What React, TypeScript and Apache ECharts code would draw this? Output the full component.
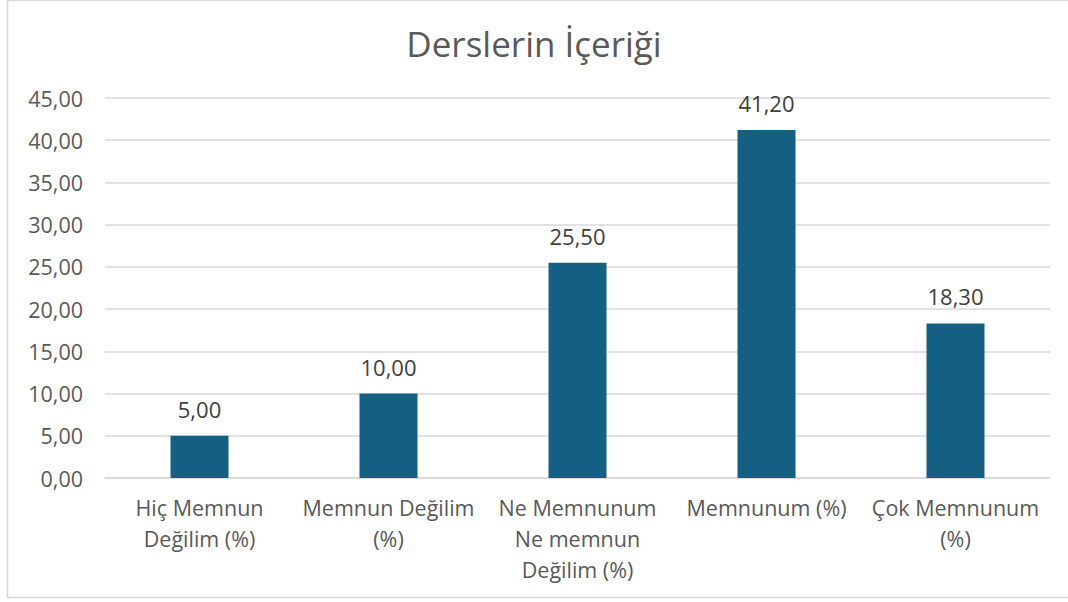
import React, { useEffect, useRef } from "react";
import * as echarts from "echarts";

const title = "Derslerin İçeriği";
const categories = [
  "Hiç Memnun\nDeğilim (%)",
  "Memnun Değilim\n(%)",
  "Ne Memnunum\nNe memnun\nDeğilim (%)",
  "Memnunum (%)",
  "Çok Memnunum\n(%)",
];
const values = [5.0, 10.0, 25.5, 41.2, 18.3];
const yMin = 0;
const yMax = 45;
const yInterval = 5;

const FONT = "'Open Sans', 'Noto Sans', sans-serif";
const fmt = (v: number) => v.toFixed(2).replace(".", ",");

export default function App() {
  const ref = useRef<HTMLDivElement>(null);
  useEffect(() => {
    if (!ref.current) return;
    const chart = echarts.init(ref.current, undefined, { renderer: "svg" });
    chart.setOption({
      animation: false,
      backgroundColor: "#ffffff",
      title: {
        text: title,
        left: "center",
        top: 21,
        textStyle: { fontFamily: FONT, fontSize: 35, fontWeight: "normal", color: "#595959" },
      },
      graphic: [
        {
          type: "rect",
          shape: { x: 7.5, y: 0.5, width: 1070, height: 597 },
          style: { fill: "none", stroke: "#d9d9d9", lineWidth: 1.5 },
          silent: true,
        },
      ],
      grid: { left: 105, right: 18, top: 98, bottom: 124 },
      xAxis: {
        type: "category",
        data: categories,
        axisLine: { show: true, lineStyle: { color: "#d9d9d9", width: 1.5 } },
        axisTick: { show: false },
        axisLabel: {
          interval: 0,
          margin: 14,
          fontFamily: FONT,
          fontSize: 21.5,
          lineHeight: 31,
          color: "#595959",
        },
      },
      yAxis: {
        type: "value",
        min: yMin,
        max: yMax,
        interval: yInterval,
        axisLine: { show: false },
        axisTick: { show: false },
        splitLine: { lineStyle: { color: "#d9d9d9", width: 1.5 } },
        axisLabel: {
          margin: 22,
          fontFamily: FONT,
          fontSize: 21.5,
          color: "#595959",
          formatter: (v: number) => fmt(v),
        },
      },
      series: [
        {
          type: "bar",
          data: values,
          barWidth: 58,
          itemStyle: { color: "#156082" },
          label: {
            show: true,
            position: "top",
            distance: 16,
            fontFamily: FONT,
            fontSize: 22,
            color: "#404040",
            formatter: (p: any) => fmt(p.value),
          },
        },
      ],
    });
    return () => chart.dispose();
  }, []);
  return (
    <div
      ref={ref}
      style={{ position: "fixed", left: 0, top: 0, width: 1068, height: 602 }}
    />
  );
}
